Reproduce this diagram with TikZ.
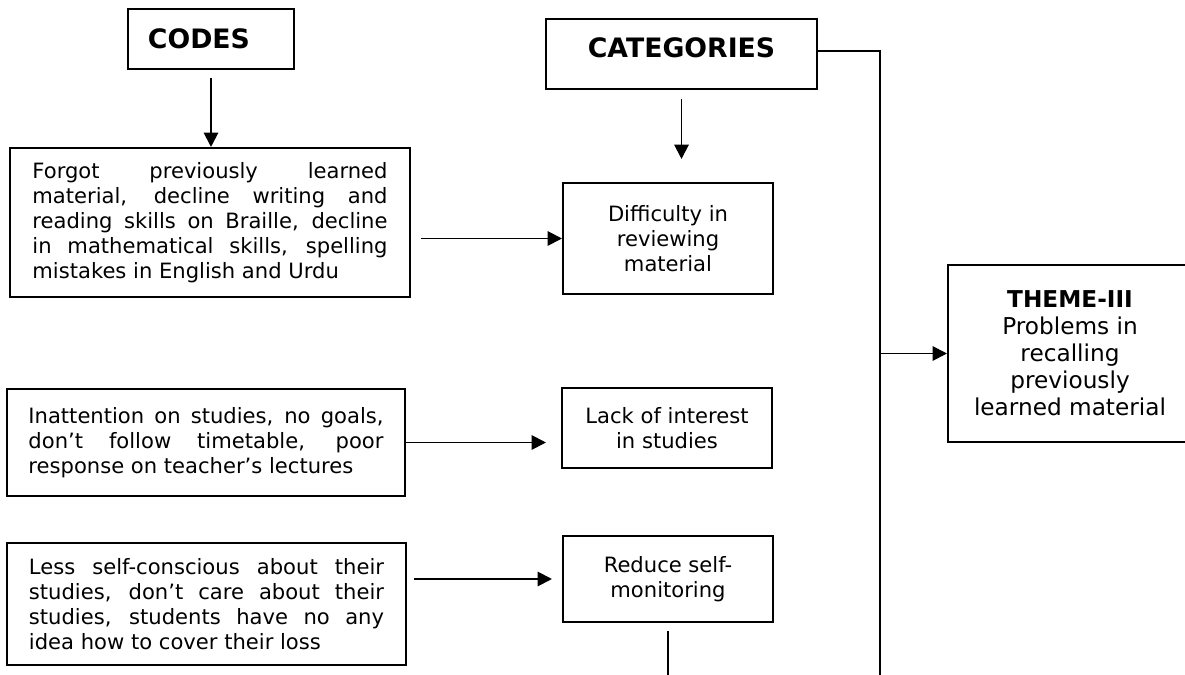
\documentclass[tikz,border=0pt]{standalone}
\usepackage{fontspec}
\setmainfont{DejaVu Sans}
\usetikzlibrary{arrows.meta,positioning}

\hyphenpenalty=10000
\exhyphenpenalty=10000
\tolerance=10000

\tikzset{
  box/.style={draw, line width=1.4pt, inner sep=0pt, align=center,
    font=\fontsize{15}{17.8}\selectfont},
  head/.style={box, font=\fontsize{19}{22}\selectfont\bfseries},
  code/.style={box, align=justify, text width=8.875cm},
  arr/.style={draw, line width=1.4pt, -{Triangle[length=0.36cm,width=0.36cm]}},
  link/.style={line width=1.4pt},
}

\begin{document}
\begin{tikzpicture}[x=0.025cm, y=-0.025cm]
	\useasboundingbox (0,0) rectangle (1185,675);
	% Draw the headings
	\node[head, align=left, text width=3.15cm, minimum width=4.15cm, minimum height=1.5cm] (codes) at (211,39) {CODES};
	\node[head, text height=0.49cm, text depth=0.3cm, minimum width=6.775cm, minimum height=1.75cm] (cats) at (681.5,54) {CATEGORIES};
	% Draw the codes
	\node[code, minimum width=10cm, minimum height=3.725cm] (c1) at (210,222.5)
		{Forgot previously learned\linebreak material, decline writing and\linebreak reading skills on Braille, decline\linebreak in mathematical skills, spelling\linebreak mistakes in English and Urdu};
	\node[code, minimum width=9.95cm, minimum height=2.675cm] (c2) at (206,442.5)
		{Inattention on studies, no goals,\linebreak don’t follow timetable, poor\linebreak response on teacher’s lectures};
	\node[code, minimum width=9.975cm, minimum height=3.05cm] (c3) at (206.5,604)
		{Less self-conscious about their\linebreak studies, don’t care about their\linebreak studies, students have no any\linebreak idea how to cover their loss};
	% Draw the categories
	\node[box, minimum width=5.25cm, minimum height=2.775cm] (diff) at (668,238.5) {Difficulty in\\reviewing\\material};
	\node[box, minimum width=5.25cm, minimum height=2cm] (lack) at (667,428) {Lack of interest\\in studies};
	\node[box, minimum width=5.25cm, minimum height=2.15cm] (reduce) at (668,579) {Reduce self-\\monitoring};
	% Draw the theme
	\node[box, font=\fontsize{16.5}{19.2}\selectfont, minimum width=6.1cm, minimum height=4.425cm] (theme) at (1070,353.5)
		{\textbf{THEME-III}\\Problems in\\recalling\\previously\\learned material};
	% The rail on the right
	\coordinate (rail) at (880,51);
	\coordinate (railend) at (880,675);
	\draw[link] (cats.east |- rail) -- (rail) -- (railend);
	\draw[link, shorten <=0.2cm] (reduce.south) -- (reduce.south |- railend);
	% Connect the boxes with arrows
	\path
		(codes.south) edge[arr, shorten <=0.2cm] (codes.south |- c1.north)
		(cats.south) edge[arr, shorten <=0.225cm, shorten >=0.575cm] (cats.south |- diff.north)
		(c1.east |- diff.west) edge[arr, shorten <=0.25cm] (diff.west)
		(c2.east) edge[arr, shorten >=0.375cm] (c2.east -| lack.west)
		(c3.east |- reduce.west) edge[arr, shorten <=0.175cm, shorten >=0.25cm] (reduce.west)
		(rail |- theme.west) edge[arr] (theme.west);
\end{tikzpicture}
\end{document}
